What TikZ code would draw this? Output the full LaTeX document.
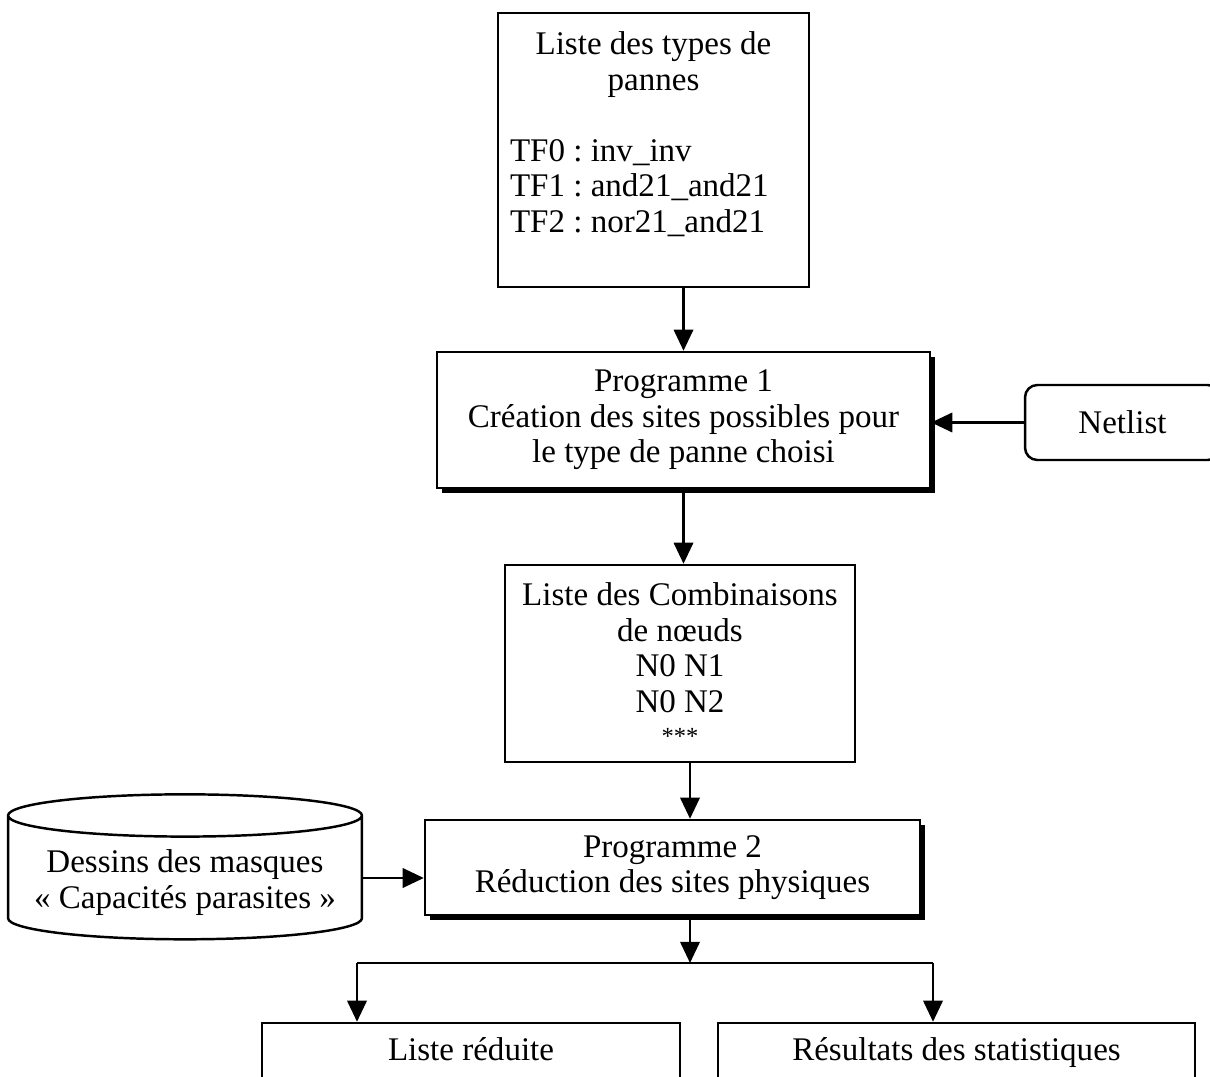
\documentclass[tikz,border=0pt]{standalone}
\usepackage{fontspec}
\setmainfont{Liberation Serif}
\usetikzlibrary{positioning}
\usetikzlibrary{shapes.geometric, arrows.meta, shadows}

\begin{document}
\begin{tikzpicture}[x=0.02cm, y=-0.02cm,
			font=\fontsize{18.8}{20.2}\selectfont\frenchspacing,
			box/.style = {
				draw, line width=1.4pt, fill=white, align=center, inner sep=0pt
			},
			prog/.style = {
				box, drop shadow={shadow xshift=2.6pt, shadow yshift=-2.6pt,
				fill=black, opacity=1}
			},
			flow/.style = {
				-{Triangle[length=12pt, width=11pt]}, line width=1.4pt
			}]
			\clip (0,0) rectangle (1210,1077);
			\useasboundingbox (0,0) rectangle (1210,1077);
			\node (types) [box, minimum width=6.22cm, minimum height=5.48cm]
			at (653.5,150)
			{Liste des types de\\ pannes\\ \mbox{}\\
				\makebox[5.74cm][l]{TF0 : inv\_inv}\\
				\makebox[5.74cm][l]{TF1 : and21\_and21}\\
				\makebox[5.74cm][l]{TF2 : nor21\_and21}\\ \mbox{}};
			\node (prog1) [prog, minimum width=9.86cm, minimum height=2.72cm]
			at (683.5,420) {Programme 1\\ Création des sites possibles pour\\
				le type de panne choisi};
			\node (netlist) [box, rounded corners=7pt, minimum width=3.9cm,
			minimum height=1.5cm] at (1122.5,422.5) {Netlist};
			\node (comb) [box, minimum width=7cm, minimum height=3.94cm]
			at (680,663.5) {Liste des Combinaisons\\ de nœuds\\ N0 N1\\ N0 N2\\[-2pt]
				{\fontsize{14}{16}\selectfont ***}};
			\node (prog2) [prog, minimum width=9.9cm, minimum height=1.9cm]
			at (672.5,867.5) {Programme 2\\ Réduction des sites physiques};
			\node (masques) [box, cylinder, shape border rotate=90, aspect=0.14,
			minimum width=7.08cm, minimum height=2.9cm] at (185,878)
			{\raisebox{-3pt}[\height][\depth]{\begin{tabular}{@{}c@{}}
						Dessins des masques\\ « Capacités parasites »\end{tabular}}};
			\node (reduite) [box, minimum width=8.36cm, minimum height=1.74cm]
			at (471,1066.5) {Liste réduite\\ \mbox{}};
			\node (resultats) [box, minimum width=9.54cm, minimum height=1.74cm]
			at (956.5,1066.5) {Résultats des statistiques\\ \mbox{}};
			\coordinate (split) at (690,963);
			\coordinate (left) at (357,963);
			\coordinate (right) at (933,963);
			\path [flow]
			(types.south -| prog1.north) edge (prog1.north)
			(netlist.west) edge (netlist.west -| prog1.east)
			(prog1.south) edge (prog1.south |- comb.north)
			(comb.south -| split) edge (prog2.north -| split)
			(masques.east) edge (masques.east -| prog2.west)
			(prog2.south -| split) edge (split)
			(left) edge (left |- reduite.north)
			(right) edge (right |- resultats.north);
			\draw [line width=1.4pt] (left) -- (right);
		\end{tikzpicture}
\end{document}
